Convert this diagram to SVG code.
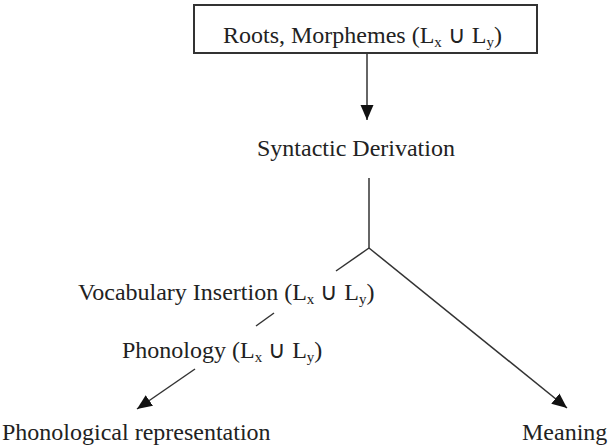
<svg xmlns="http://www.w3.org/2000/svg" width="609" height="448" viewBox="0 0 609 448">
<style>
text{font-family:"Liberation Serif","Times New Roman",serif;font-size:24px;fill:#222}
.sub{font-size:15px}
.ln{stroke:#333;stroke-width:1.5;fill:none}
</style>
<defs>
<marker id="ah" markerUnits="userSpaceOnUse" markerWidth="16" markerHeight="14" refX="15" refY="7" orient="auto">
<path d="M0,0.5 L15,7 L0,13.5 z" fill="#111"/>
</marker>
</defs>
<rect x="0" y="0" width="609" height="448" fill="#fff"/>
<g id="roots">
<rect x="194" y="5" width="343" height="48" fill="#fff" stroke="#333" stroke-width="2"/>
<text x="223" y="43">Roots, Morphemes (L<tspan class="sub" dy="4">x</tspan><tspan dy="-4"> ∪ L</tspan><tspan class="sub" dy="4">y</tspan><tspan dy="-4">)</tspan></text>
</g>
<g id="syntactic">
<text x="257" y="156">Syntactic Derivation</text>
</g>
<g id="vocab">
<text x="78" y="300">Vocabulary Insertion (L<tspan class="sub" dy="4">x</tspan><tspan dy="-4"> ∪ L</tspan><tspan class="sub" dy="4">y</tspan><tspan dy="-4">)</tspan></text>
</g>
<g id="phonology">
<text x="122" y="358">Phonology (L<tspan class="sub" dy="4">x</tspan><tspan dy="-4"> ∪ L</tspan><tspan class="sub" dy="4">y</tspan><tspan dy="-4">)</tspan></text>
</g>
<g id="phonrep">
<text x="2" y="440">Phonological representation</text>
</g>
<g id="meaning">
<text x="522" y="440">Meaning</text>
</g>
<g id="connectors">
<line class="ln" x1="367" y1="53" x2="367" y2="120" marker-end="url(#ah)"/>
<line class="ln" x1="369" y1="178" x2="369" y2="248"/>
<line class="ln" x1="369" y1="248" x2="336" y2="271"/>
<line class="ln" x1="274" y1="313" x2="256" y2="326"/>
<line class="ln" x1="195" y1="369" x2="137" y2="409" marker-end="url(#ah)"/>
<line class="ln" x1="369" y1="248" x2="567" y2="408" marker-end="url(#ah)"/>
</g>
</svg>
